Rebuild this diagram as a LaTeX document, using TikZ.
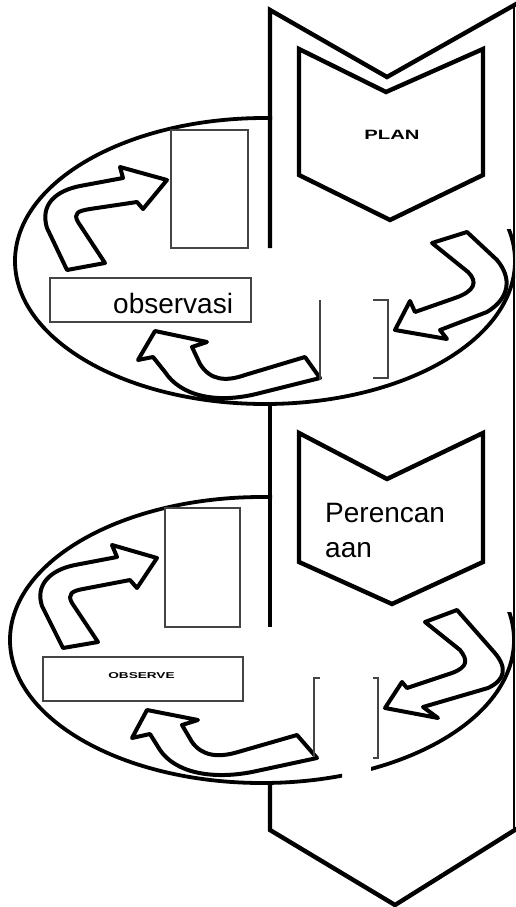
\documentclass[tikz,border=0pt]{standalone}
\usepackage{xcolor}
\usepackage{fontspec}
\setmainfont{Liberation Sans}
\definecolor{boxgray}{HTML}{444444}
\begin{document}
\begin{tikzpicture}[x=1pt,y=-1pt,
  outl/.style={draw=black, line width=4.4pt, line join=miter},
  ell/.style={draw=black, line width=3.8pt},
  blockarrow/.style={draw=black, fill=white, line width=4pt, line join=round},
  grayrect/.style={draw=boxgray, line width=2pt, fill=white, inner sep=0pt},
  brk/.style={draw=boxgray, line width=1.9pt},
  bigtext/.style={font=\fontsize{28}{34}\selectfont, inner sep=0pt},
]
\fill[white] (0,0) rectangle (515,907);
\useasboundingbox (0,0) rectangle (515,907);

% ellipses (upper right part hidden behind the big chevron)
\begin{scope}
  \clip (0,0) -- (272,0) -- (272,229) -- (515,229) -- (515,440) -- (0,440) -- cycle;
  \draw[ell] (265,261) ellipse [x radius=250, y radius=143];
\end{scope}
\begin{scope}
  \clip (0,440) -- (272,440) -- (272,612) -- (515,612) -- (515,907) -- (371,907)
        -- (371,760) -- (342,760) -- (342,907) -- (0,907) -- cycle;
  \draw[ell] (262,640) ellipse [x radius=252, y radius=143];
\end{scope}

% big chevron
\draw[outl] (270,248) -- (270,10) -- (387,77) -- (518,3);
\draw[outl] (270,405) -- (270,627);
\draw[outl] (270,783) -- (270,830) -- (395,905) -- (518,828);
\draw[black, line width=1.8pt] (514,6) -- (514,832);

% inner chevrons
\draw[outl, fill=white] (299,49) -- (386,92) -- (483,49) -- (483,175) -- (390,220) -- (299,175) -- cycle;
\draw[outl, fill=white] (299,433) -- (387,479) -- (483,433) -- (483,562) -- (392,604) -- (299,562) -- cycle;

% boxes
\node[grayrect, minimum width=77pt, minimum height=118pt] (box1) at (209.5,189) {};
\node[grayrect, minimum width=201pt, minimum height=44pt] (obs1) at (150.5,300) {};
\node[grayrect, minimum width=75pt, minimum height=119pt] (box2) at (202.5,567.5) {};
\node[grayrect, minimum width=200pt, minimum height=44pt] (obs2) at (143,679) {};

% block arrows, upper cycle
\draw[blockarrow] (67,270) -- (105,263) -- (78,222) .. controls (73,213) and (78,211) .. (90,209)
  -- (137,202) -- (143,209) -- (167,180) -- (120,167) -- (123,178) -- (80,186)
  .. controls (55,191) and (40,205) .. (47,228) -- cycle;
\draw[blockarrow] (155,331) -- (207,342) -- (192,347) -- (200,364)
  .. controls (210,380) and (225,382) .. (245,375) -- (305,357) -- (320,378) -- (260,393)
  .. controls (215,405) and (180,395) .. (165,372) -- (153,357) -- (138,360) -- cycle;
\draw[blockarrow] (432,243) -- (467,232) -- (497,260) .. controls (512,278) and (510,298) .. (487,312)
  -- (440,330) -- (447,339) -- (395,330) -- (410,301) -- (415,312) -- (455,298)
  .. controls (475,291) and (478,282) .. (468,272) -- cycle;

% block arrows, lower cycle
\draw[blockarrow] (63,648) -- (98,642) -- (72,603) .. controls (67,594) and (72,591) .. (83,589)
  -- (130,580) -- (137,588) -- (157,558) -- (112,545) -- (117,557) -- (75,565)
  .. controls (50,570) and (35,585) .. (42,606) -- cycle;
\draw[blockarrow] (147,710) -- (198,720) -- (182,725) -- (192,742)
  .. controls (202,756) and (218,758) .. (238,752) -- (297,735) -- (317,758) -- (252,772)
  .. controls (210,780) and (175,772) .. (160,750) -- (150,734) -- (132,738) -- cycle;
\draw[blockarrow] (425,622) -- (457,610) -- (494,652) .. controls (508,668) and (505,680) .. (488,688)
  -- (423,707) -- (438,718) -- (385,708) -- (402,682) -- (407,688) -- (452,673)
  .. controls (468,667) and (468,660) .. (460,650) -- cycle;

% brackets
\draw[brk, line width=1.1pt] (320,300) -- (320,380);
\draw[brk] (373,300) -- (388,300) -- (388,378) -- (373,378);
\draw[brk] (320,678) -- (314,678) -- (314,757);
\draw[brk] (373,678) -- (378,678) -- (378,758) -- (373,758);

% texts
\node[font=\bfseries\fontsize{13.5}{14}\selectfont, xscale=1.5, inner sep=0pt] (plan) at (392,135) {PLAN};
\node[bigtext, anchor=base west] (obstext) at (113,313) {observasi};
\node[bigtext, anchor=base west] (per1) at (325,522) {Perencan};
\node[bigtext, anchor=base west] (per2) at (325,557) {aan};
\node[font=\bfseries\fontsize{8.5}{9}\selectfont, xscale=1.6, inner sep=0pt] (observe) at (141.5,676) {OBSERVE};
\end{tikzpicture}
\end{document}
